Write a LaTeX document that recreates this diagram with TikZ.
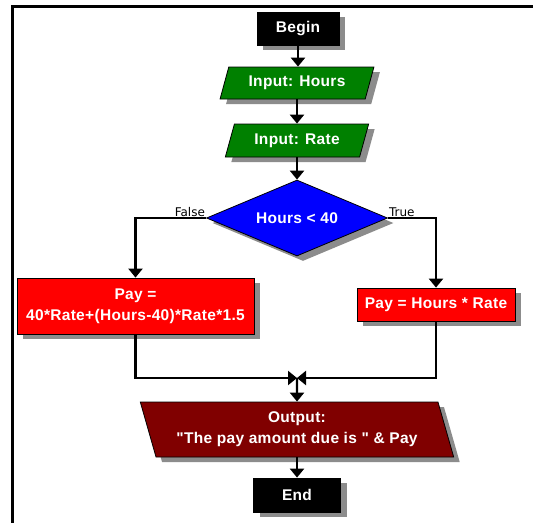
\documentclass[tikz,border=0pt]{standalone}
\usepackage{fontspec}
\setmainfont{Liberation Sans}[Ligatures=TeXOff]
\newfontfamily\boxfont{Liberation Sans}[Ligatures=TeXOff,LetterSpace=2]
\newfontfamily\lblfont{DejaVu Sans}
\usetikzlibrary{shapes.geometric,arrows.meta,shadows}
\definecolor{fgreen}{HTML}{008000}
\definecolor{fblue}{HTML}{0000FF}
\definecolor{fred}{HTML}{FF0000}
\definecolor{fmaroon}{HTML}{800000}
\definecolor{fshadow}{HTML}{8C8C8C}
\tikzset{
  shad/.style={drop shadow={shadow xshift=6pt,shadow yshift=-5pt,fill=fshadow,opacity=1}},
  base/.style={draw=black,line width=0.8pt,text=white,inner sep=0pt,align=center,
    font=\boxfont\fontsize{15.5}{21}\selectfont\bfseries,shad},
  termbox/.style={base,rectangle,fill=black},
  procbox/.style={base,rectangle,fill=fred},
  inbox/.style={base,trapezium,trapezium left angle=66,trapezium right angle=114,
    trapezium stretches=true,fill=fgreen},
  outbox/.style={base,trapezium,trapezium left angle=111,trapezium right angle=69,
    trapezium stretches=true,fill=fmaroon},
  decbox/.style={base,diamond,aspect=2.38,fill=fblue},
  conn/.style={line width=2.4pt,draw=black},
  arr/.style={conn,-{Triangle[width=14pt,length=9pt]}},
  lbl/.style={font=\lblfont\fontsize{12}{14}\selectfont,text=black,inner sep=1pt}
}
\begin{document}
\begin{tikzpicture}[x=1pt,y=-1pt]
\useasboundingbox (0,0) rectangle (533,523);
\fill[white] (0,0) rectangle (533,523);
\draw[line width=3pt] (533,6) -- (12,6) -- (12,523);

\node[termbox,minimum width=82,minimum height=33] (begin) at (298,28.5) {Begin};
\node[inbox,minimum width=154,minimum height=32] (hours) at (297,83) {Input: Hours};
\node[inbox,minimum width=144,minimum height=33] (rate) at (297,140.5) {Input: Rate};
\node[decbox,minimum width=181,minimum height=76] (dec) at (297,218) {Hours < 40};
\node[procbox,minimum width=237,minimum height=56] (pleft) at (135.5,306) {Pay =\\40*Rate+(Hours-40)*Rate*1.5};
\node[procbox,minimum width=158,minimum height=33] (pright) at (436,304.5) {Pay = Hours * Rate};
\coordinate (merge) at (297,378);
\node[outbox,minimum width=314,minimum height=55] (out) at (297,429.5) {Output:\\"The pay amount due is " \& Pay};
\node[termbox,minimum width=87,minimum height=34] (end) at (297,495) {End};

\draw[arr] (begin.south) -- (begin.south |- hours.north);
\draw[arr] (hours.south) -- (hours.south |- rate.north);
\draw[arr] (rate.south) -- (rate.south |- dec.north);
\draw[arr] (dec.west) -| (pleft.north);
\draw[arr] (dec.east) -| (pright.north);
\draw[arr] (pleft.south) |- (merge);
\draw[arr] (pright.south) |- (merge);
\draw[arr] (merge) -- (out.north);
\draw[arr] (out.south) -- (out.south |- end.north);

\node[lbl,anchor=south east] (flabel) at (dec.west) {False};
\node[lbl,anchor=south west] (tlabel) at (dec.east) {True};
\end{tikzpicture}
\end{document}
